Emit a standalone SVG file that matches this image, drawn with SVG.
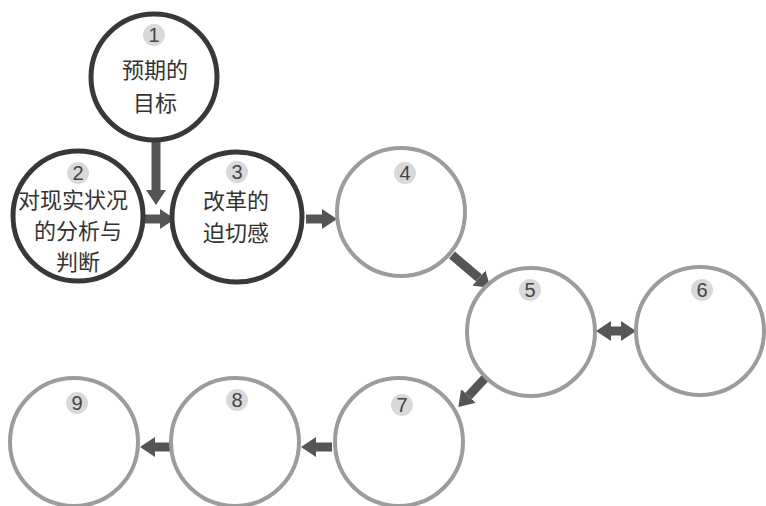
<svg xmlns="http://www.w3.org/2000/svg" width="766" height="506" viewBox="0 0 766 506">
<style>
.dk{fill:#fff;stroke:#383838;stroke-width:5}
.lt{fill:#fff;stroke:#9c9c9c;stroke-width:4}
.badge{fill:#d9d9d9}
.num{font-family:"Liberation Sans",Arial,sans-serif;font-size:20px;fill:#444;text-anchor:middle}
.lbl{font-family:"Noto Sans CJK SC","Noto Sans",sans-serif;font-size:22px;fill:#333;text-anchor:middle}
.ar{stroke:#555;stroke-width:9;fill:none;marker-end:url(#h)}
</style>
<defs>
<marker id="h" markerUnits="userSpaceOnUse" markerWidth="15" markerHeight="20" viewBox="0 0 15 20" refX="0" refY="10" orient="auto-start-reverse">
<path d="M0,0 L15,10 L0,20 z" fill="#555"/>
</marker>
</defs>
<rect width="766" height="506" fill="#fff"/>
<g id="connectors">
<line class="ar" x1="156" y1="142" x2="156" y2="190"/>
<line class="ar" x1="144" y1="219" x2="160" y2="219"/>
<line class="ar" x1="306" y1="219" x2="322" y2="219"/>
<line class="ar" x1="452" y1="255" x2="479" y2="278"/>
<line class="ar" x1="611" y1="331" x2="621" y2="331" style="marker-start:url(#h)"/>
<line class="ar" x1="487" y1="376" x2="468.5" y2="396"/>
<line class="ar" x1="332" y1="447" x2="316" y2="447"/>
<line class="ar" x1="170" y1="447" x2="155" y2="447"/>
</g>
<g id="n1">
<circle class="dk" cx="154" cy="77" r="63"/>
<circle class="badge" cx="154" cy="35" r="11"/>
<text class="num" x="154" y="42">1</text>
<text class="lbl" x="155" y="78">预期的</text>
<text class="lbl" x="155" y="111">目标</text>
</g>
<g id="n2">
<circle class="dk" cx="78" cy="216" r="65"/>
<circle class="badge" cx="78" cy="173" r="11"/>
<text class="num" x="78" y="180">2</text>
<text class="lbl" x="73" y="208">对现实状况</text>
<text class="lbl" x="78" y="239">的分析与</text>
<text class="lbl" x="78" y="270">判断</text>
</g>
<g id="n3">
<circle class="dk" cx="237" cy="217" r="65"/>
<circle class="badge" cx="237" cy="172" r="11"/>
<text class="num" x="237" y="179">3</text>
<text class="lbl" x="236" y="209">改革的</text>
<text class="lbl" x="236" y="241">迫切感</text>
</g>
<g id="n4">
<circle class="lt" cx="401" cy="212" r="64"/>
<circle class="badge" cx="405" cy="173" r="11"/>
<text class="num" x="405" y="180">4</text>
</g>
<g id="n5">
<circle class="lt" cx="531" cy="332" r="64"/>
<circle class="badge" cx="530" cy="290" r="11"/>
<text class="num" x="530" y="297">5</text>
</g>
<g id="n6">
<circle class="lt" cx="700" cy="331" r="64"/>
<circle class="badge" cx="702" cy="290" r="11"/>
<text class="num" x="702" y="297">6</text>
</g>
<g id="n7">
<circle class="lt" cx="399" cy="442" r="64"/>
<circle class="badge" cx="402" cy="405" r="11"/>
<text class="num" x="402" y="412">7</text>
</g>
<g id="n8">
<circle class="lt" cx="235" cy="442" r="64"/>
<circle class="badge" cx="237" cy="400" r="11"/>
<text class="num" x="237" y="407">8</text>
</g>
<g id="n9">
<circle class="lt" cx="74" cy="442" r="64"/>
<circle class="badge" cx="77" cy="403" r="11"/>
<text class="num" x="77" y="410">9</text>
</g>
</svg>
